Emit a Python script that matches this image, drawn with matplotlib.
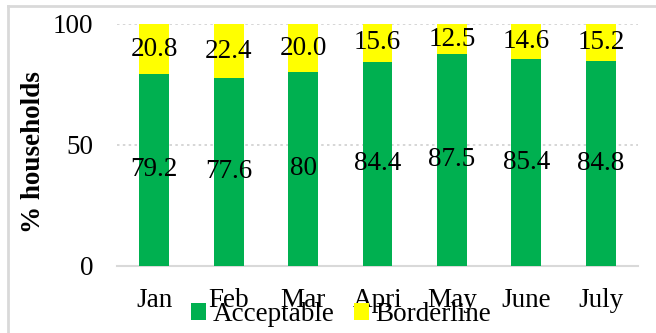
import matplotlib
matplotlib.use("Agg")
import matplotlib.pyplot as plt
from matplotlib.lines import Line2D

plt.rcParams['font.family'] = ['Liberation Serif', 'DejaVu Serif']

months = ['Jan', 'Feb', 'Mar', 'Apri', 'May', 'June', 'July']
acceptable = [79.2, 77.6, 80, 84.4, 87.5, 85.4, 84.8]
borderline = [20.8, 22.4, 20.0, 15.6, 12.5, 14.6, 15.2]

green = '#00B050'
yellow = '#FFFF00'
fs = 19.5

fig = plt.figure(figsize=(6.56, 3.33), dpi=100)
ax = fig.add_axes([0.1784, 0.2027, 0.7942, 0.7253])

x = range(len(months))
b1 = ax.bar(x, acceptable, width=0.4, color=green, label='Acceptable', zorder=2)
b2 = ax.bar(x, borderline, width=0.4, bottom=acceptable, color=yellow,
            label='Borderline', zorder=2)

ax.bar_label(b1, labels=[f'{v:g}' for v in acceptable], label_type='center',
             fontsize=fs, zorder=3)
ax.bar_label(b2, labels=[f'{v:.1f}' for v in borderline], label_type='center',
             fontsize=fs, zorder=3)

ax.set_xlim(-0.5, len(months) - 0.5)
ax.set_ylim(0, 100)
ax.set_yticks([0, 50, 100])
ax.set_xticks(list(x))
ax.set_xticklabels(months)
ax.tick_params(axis='both', length=0, labelsize=fs)
ax.tick_params(axis='x', pad=16)
ax.tick_params(axis='y', pad=17)

for s in ['top', 'right', 'left']:
    ax.spines[s].set_visible(False)
ax.spines['bottom'].set_color('#D9D9D9')
ax.spines['bottom'].set_linewidth(1.5)
ax.spines['bottom'].set_zorder(1)

for yv in [50, 100]:
    ax.axhline(yv, color='#D0D0D0', linestyle=(0, (1.5, 2)), linewidth=1.2, zorder=1)

ax.set_ylabel('% households', fontsize=fs, fontweight='bold')
ax.yaxis.set_label_coords(-0.136, 0.47)

fig.legend(handles=[b1, b2], labels=['Acceptable', 'Borderline'],
           loc='center', bbox_to_anchor=(0.52, 0.055), ncol=2, frameon=False,
           fontsize=fs, handlelength=0.55, handleheight=0.55,
           handletextpad=0.25, columnspacing=0.7, borderaxespad=0)

# chart-area outline (left and top edges)
fig.add_artist(Line2D([8 / 656, 8 / 656], [0, 1 - 6 / 333],
                      transform=fig.transFigure, color='#D9D9D9', linewidth=2))
fig.add_artist(Line2D([8 / 656, 1], [1 - 6 / 333, 1 - 6 / 333],
                      transform=fig.transFigure, color='#D9D9D9', linewidth=2))

fig.savefig('out.png', dpi=100)
